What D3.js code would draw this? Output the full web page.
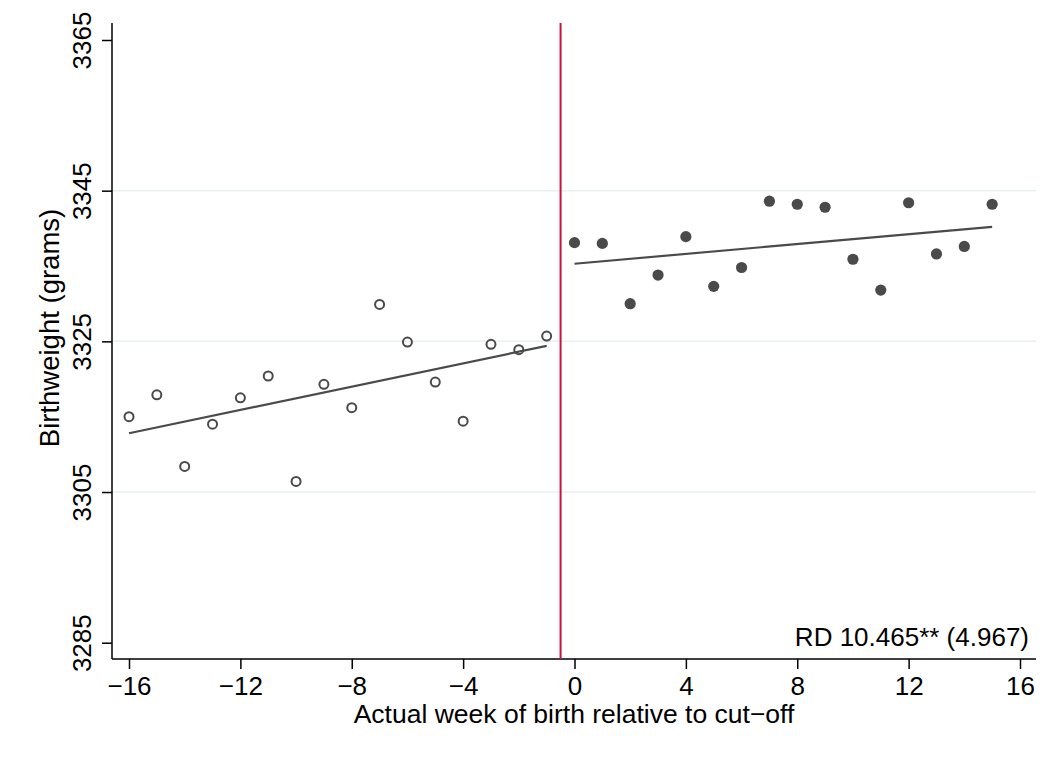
<!DOCTYPE html>
<html>
<head>
<meta charset="utf-8">
<script src="https://cdn.jsdelivr.net/npm/d3@7"></script>
<style>
  body { margin: 0; background: #fff; }
  svg text { font-family: "Liberation Sans", Arial, Helvetica, sans-serif; fill: #000; }
</style>
</head>
<body>
<div id="chart"></div>
<script>
// weeks relative to cut-off and mean birthweight per week
const weeksBefore = [-16, -15, -14, -13, -12, -11, -10, -9, -8, -7, -6, -5, -4, -3, -2, -1];
const weightBefore = [3315.0, 3317.9, 3308.4, 3314.0, 3317.5, 3320.4, 3306.4, 3319.3, 3316.2, 3329.9, 3324.9, 3319.6, 3314.4, 3324.6, 3323.9, 3325.7];
const weeksAfter = [0, 1, 2, 3, 4, 5, 6, 7, 8, 9, 10, 11, 12, 13, 14, 15];
const weightAfter = [3338.1, 3338.0, 3330.0, 3333.8, 3338.9, 3332.3, 3334.8, 3343.6, 3343.2, 3342.8, 3335.9, 3331.8, 3343.4, 3336.6, 3337.6, 3343.2];

// linear fit endpoints on each side
const fitBefore = [[-16, 3312.8], [-1, 3324.4]];
const fitAfter = [[0, 3335.3], [15, 3340.2]];

const cutoff = -0.5;
const xTicks = [-16, -12, -8, -4, 0, 4, 8, 12, 16];
const yTicks = [3285, 3305, 3325, 3345, 3365];
const gridTicks = [3305, 3325, 3345];
const rdLabel = "RD 10.465** (4.967)";

const width = 1048, height = 762;
const plot = { left: 112, right: 1036, top: 23, bottom: 659 };

const svg = d3.select('#chart').append('svg')
    .attr('width', width)
    .attr('height', height);

const x = d3.scaleLinear().domain([-16, 16]).range([129, 1020]);
const y = d3.scaleLinear().domain([3285, 3365]).range([642.7, 40]);

// grid lines
svg.append('g').selectAll('line')
    .data(gridTicks)
    .enter().append('line')
    .attr('x1', plot.left)
    .attr('x2', plot.right)
    .attr('y1', d => y(d))
    .attr('y2', d => y(d))
    .attr('stroke', '#e8eff2')
    .attr('stroke-width', 1.5);

// y axis
const yAxis = svg.append('g')
    .attr('transform', 'translate(' + plot.left + ',0)')
    .call(d3.axisLeft(y).tickValues(yTicks).tickSize(10).tickSizeOuter(0).tickFormat(d3.format('d')));
yAxis.select('.domain').attr('d', 'M0,' + plot.top + 'V' + plot.bottom).attr('stroke-width', 1.5);
yAxis.selectAll('.tick line').attr('stroke-width', 1.5);
yAxis.selectAll('.tick text')
    .attr('font-size', 26)
    .attr('x', null).attr('dy', null)
    .attr('transform', 'translate(-21,0) rotate(-90)')
    .style('text-anchor', 'middle');

// x axis
const xAxis = svg.append('g')
    .attr('transform', 'translate(0,' + plot.bottom + ')')
    .call(d3.axisBottom(x).tickValues(xTicks).tickSize(10).tickSizeOuter(0).tickFormat(d => d < 0 ? '\u2212' + Math.abs(d) : d));
xAxis.select('.domain').attr('d', 'M' + plot.left + ',0H' + plot.right).attr('stroke-width', 1.5);
xAxis.selectAll('.tick line').attr('stroke-width', 1.5);
xAxis.selectAll('.tick text')
    .attr('font-size', 26)
    .attr('dy', null)
    .attr('y', 36);

// axis titles
svg.append('text')
    .attr('x', (plot.left + plot.right) / 2)
    .attr('y', 723)
    .attr('font-size', 26.5)
    .style('text-anchor', 'middle')
    .text('Actual week of birth relative to cut\u2212off');

svg.append('text')
    .attr('transform', 'translate(59,328) rotate(-90)')
    .attr('font-size', 27.5)
    .style('text-anchor', 'middle')
    .text('Birthweight (grams)');

// cut-off line
svg.append('line')
    .attr('x1', x(cutoff)).attr('x2', x(cutoff))
    .attr('y1', plot.top).attr('y2', plot.bottom)
    .attr('stroke', '#c8143c')
    .attr('stroke-width', 2);

// fit lines
const line = d3.line().x(d => x(d[0])).y(d => y(d[1]));
[fitBefore, fitAfter].forEach(f => {
    svg.append('path')
        .attr('d', line(f))
        .attr('fill', 'none')
        .attr('stroke', '#4a4a4a')
        .attr('stroke-width', 2.2);
});

// points before cut-off (hollow)
svg.append('g').selectAll('circle')
    .data(weeksBefore)
    .enter().append('circle')
    .attr('cx', d => x(d))
    .attr('cy', (d, i) => y(weightBefore[i]))
    .attr('r', 4.5)
    .attr('fill', 'none')
    .attr('stroke', '#4a4a4a')
    .attr('stroke-width', 2);

// points after cut-off (filled)
svg.append('g').selectAll('circle')
    .data(weeksAfter)
    .enter().append('circle')
    .attr('cx', d => x(d))
    .attr('cy', (d, i) => y(weightAfter[i]))
    .attr('r', 5.6)
    .attr('fill', '#4a4a4a');

// RD annotation
svg.append('text')
    .attr('x', 1029)
    .attr('y', 646)
    .attr('font-size', 26)
    .style('text-anchor', 'end')
    .text(rdLabel);
</script>
</body>
</html>
